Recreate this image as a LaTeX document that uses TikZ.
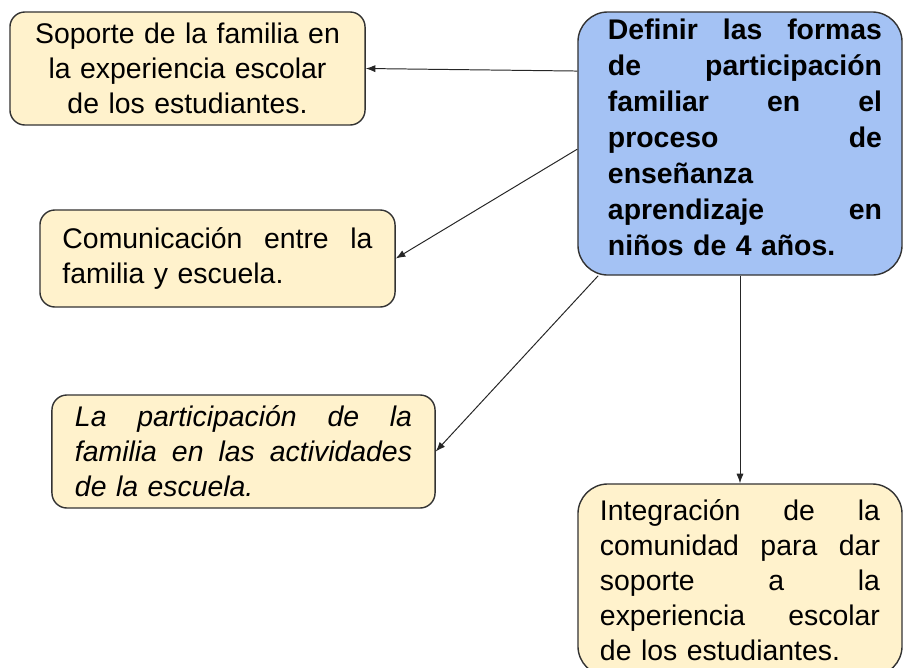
\documentclass[tikz,border=0pt]{standalone}
\usepackage{fontspec}
\setmainfont{Liberation Sans}
\usetikzlibrary{arrows.meta}

\definecolor{boxfill}{HTML}{FFF2CC}
\definecolor{goalfill}{HTML}{A4C2F4}
\definecolor{boxline}{HTML}{333333}

% one justified line of a box
\newcommand{\jline}[1]{\noindent\hbox to\hsize{\spaceskip=0pt plus 1fil\relax #1}}

\tikzset{
  idea/.style={draw=boxline, line width=1pt, fill=boxfill, rounded corners=0.375cm,
    inner sep=0pt, align=left, font=\fontsize{20.2pt}{24.9pt}\selectfont},
  goal/.style={idea, fill=goalfill, rounded corners=0.75cm},
  conn/.style={draw=black!85, line width=0.7pt, -{Latex[length=2.4mm,width=1.8mm]}}
}

\begin{document}
\begin{tikzpicture}[x=0.025cm, y=-0.025cm]
\useasboundingbox (0,0) rectangle (904,667);
\clip (0,0) rectangle (904,667);

% central goal
\node[goal, minimum width=8.1cm, minimum height=6.575cm] (goal) at (740,143.5) {};
\node[font=\fontsize{20.2pt}{25.6pt}\selectfont\bfseries, text width=6.85cm, align=left, inner sep=0pt] (goaltext) at (745,137)
  {\jline{Definir las formas}\\ \jline{de participación}\\ \jline{familiar en el}\\
   \jline{proceso de}\\ enseñanza\\ \jline{aprendizaje en}\\ niños de 4 años.};

% the four forms
\node[idea, align=center, minimum width=8.875cm, minimum height=2.825cm, text width=8.25cm] (soporte) at (187.5,68.5)
  {Soporte de la familia en\\ la experiencia escolar\\ de los estudiantes.};
\node[idea, minimum width=8.875cm, minimum height=2.425cm, text width=7.75cm] (comunic) at (217.5,258.5)
  {\jline{Comunicación entre la}\\ familia y escuela.};
\node[idea, minimum width=9.575cm, minimum height=2.825cm, text width=8.425cm,
  font=\fontsize{20.2pt}{24.9pt}\selectfont\itshape] (activ) at (243.5,451.5)
  {\jline{La participación de la}\\ \jline{familia en las actividades}\\ de la escuela.};
\node[idea, rounded corners=0.75cm, minimum width=8.1cm, minimum height=4.8cm, text width=7cm] (comunidad) at (740,580)
  {\jline{Integración de la}\\ \jline{comunidad para dar}\\ \jline{soporte a la}\\
   \jline{experiencia escolar}\\ de los estudiantes.};

% connectors
\draw[conn] (goal.156) -- (soporte.east);
\draw[conn] (goal.182) -- (comunic.east);
\draw[conn] (goal.223) -- (activ.east);
\draw[conn] (goal.south) -- (comunidad.north);
\end{tikzpicture}
\end{document}
